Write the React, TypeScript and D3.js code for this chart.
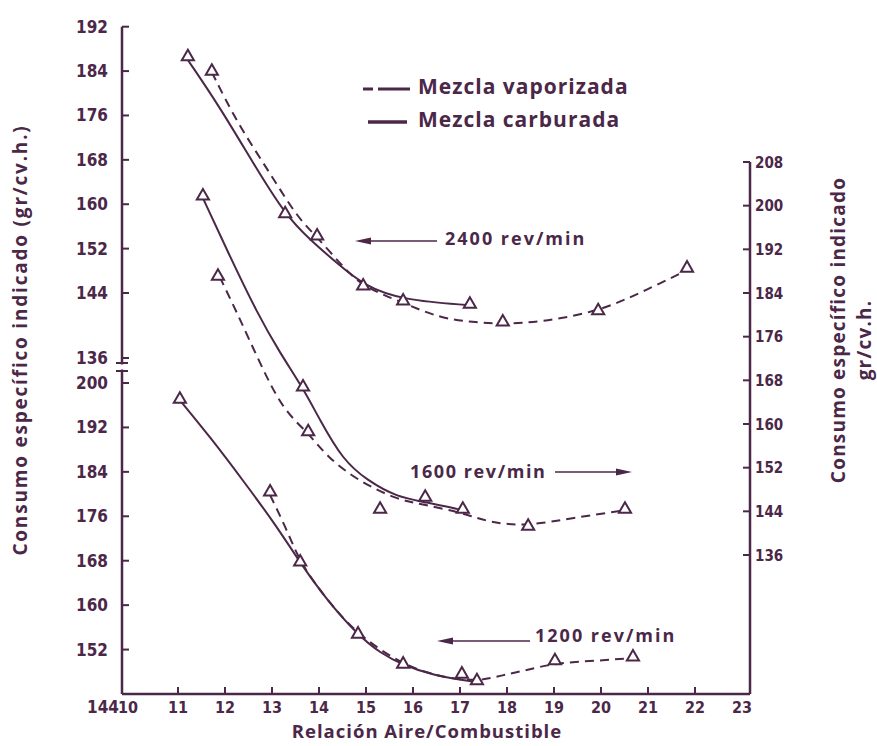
import * as d3 from "d3";

const W = 877;
const H = 746;
const INK = "#4b2748";

// air/fuel ratio ticks
const xTicks = [10, 11, 12, 13, 14, 15, 16, 17, 18, 19, 20, 21, 22, 23];
const topTicks = [136, 144, 152, 160, 168, 176, 184, 192]; // 2400 rev/min (left, upper)
const bottomTicks = [152, 160, 168, 176, 184, 192, 200]; // 1200 rev/min (left, lower)
const rightTicks = [136, 144, 152, 160, 168, 176, 184, 192, 200, 208]; // 1600 rev/min

// measured points (triangles)
const m2400Carb = [[11.21, 186.4], [13.28, 158.1], [14.94, 145.1], [15.79, 142.9], [17.21, 142.5]];
const m2400Vap = [[11.72, 183.8], [13.96, 154.1], [17.91, 140.3], [19.94, 141.7], [21.83, 148.3]];
const m1600Carb = [[11.53, 201.6], [13.66, 166.6], [16.26, 146.4], [17.06, 144.2]];
const m1600Vap = [[11.85, 186.9], [13.77, 158.4], [15.3, 144.2], [18.45, 141.1], [20.51, 144.2]];
const m1200Carb = [[11.04, 196.9], [13.6, 167.6], [14.83, 154.6], [15.79, 149.2], [17.04, 147.4]];
const m1200Vap = [[12.96, 180.2], [17.36, 146.2], [19.02, 149.8], [20.68, 150.5]];

// drawn curves
const c2400Carb = [[11.21, 186.0], [11.89, 177.5], [12.6, 167.4], [13.28, 158.1], [13.81, 153.6], [14.38, 149.4], [14.94, 145.4], [15.79, 143.1], [17.21, 142.5]];
const c2400Vap = [[11.72, 183.8], [12.26, 174.6], [12.96, 165.6], [13.53, 157.7], [13.96, 154.1], [14.51, 148.7], [14.94, 145.1], [15.79, 142.8], [16.57, 140.9], [17.28, 140.4], [17.91, 140.2], [18.7, 140.4], [19.94, 141.7], [20.83, 144.0], [21.83, 148.1]];
const c1600Carb = [[11.53, 201.4], [12.11, 190.6], [12.68, 180.4], [13.17, 173.0], [13.66, 166.6], [14.02, 160.7], [14.51, 153.4], [15.02, 149.7], [15.66, 146.6], [16.26, 145.7], [17.06, 144.2]];
const c1600Vap = [[11.89, 186.9], [12.26, 180.3], [12.74, 171.2], [13.23, 162.6], [13.77, 158.4], [14.17, 154.0], [14.81, 149.7], [15.66, 146.1], [16.26, 145.2], [17.06, 143.7], [17.64, 141.9], [18.43, 141.3], [19.4, 142.8], [20.51, 144.2]];
const c1200Carb = [[11.04, 196.9], [11.68, 190.3], [12.38, 182.5], [13.11, 174.1], [13.6, 167.6], [14.17, 160.9], [14.83, 154.6], [15.3, 151.4], [15.79, 149.2], [16.43, 147.4], [17.04, 146.5], [17.32, 146.2]];
const c1200Vap = [[12.96, 179.8], [13.32, 173.5], [13.6, 167.6], [14.17, 160.9], [14.83, 154.6], [15.79, 149.2], [16.57, 147.1], [17.36, 146.2], [17.91, 147.4], [18.43, 148.3], [19.02, 149.6], [20.13, 150.1], [20.68, 150.5]];

const legendItems = ["Mezcla vaporizada", "Mezcla carburada"];

const AX_L = 122;
const AX_R = 750;
const AX_B = 694;

const x = d3.scaleLinear().domain([10, 23]).range([131, 742]);
// upper left scale has a break below 144
const yTop = d3.scaleLinear().domain([136, 144, 192]).range([358, 293, 26.7]);
const yBot = d3.scaleLinear().domain([144, 200]).range([AX_B, 383]);
const yRight = d3.scaleLinear().domain([136, 208]).range([555, 162]);

const font = "'Open Sans', 'DejaVu Sans', sans-serif";
const narrow = "'DejaVu Sans Condensed', 'Open Sans', sans-serif";
const tri = d3.symbol().type(d3.symbolTriangle).size(64);

function Curve({ pts, y, dashed }: { pts: number[][]; y: any; dashed?: boolean }) {
  const line = d3.line<number[]>().x(d => x(d[0])).y(d => y(d[1])).curve(d3.curveBasis);
  return (
    <path d={line(pts) || ""} fill="none" stroke={INK} strokeWidth={2}
      strokeDasharray={dashed ? "9,6" : undefined} />
  );
}

function Marks({ pts, y }: { pts: number[][]; y: any }) {
  return (
    <g>
      {pts.map((d, i) => (
        <path key={i} d={tri() || ""} transform={`translate(${x(d[0])},${y(d[1]) - 1})`}
          fill="white" stroke={INK} strokeWidth={2} />
      ))}
    </g>
  );
}

function Arrow({ x1, x2, yy }: { x1: number; x2: number; yy: number }) {
  const dir = x2 > x1 ? 1 : -1;
  return (
    <g>
      <line x1={x1} x2={x2 - dir * 8} y1={yy} y2={yy} stroke={INK} strokeWidth={1.5} />
      <path d={`M${x2},${yy} L${x2 - dir * 16},${yy - 3.5} L${x2 - dir * 16},${yy + 3.5} Z`} fill={INK} />
    </g>
  );
}

export default function App() {
  const bold = { fontFamily: font, fontWeight: 700, fill: INK } as const;
  const tick = { fontFamily: narrow, fontWeight: 700, fill: INK } as const;
  return (
    <svg width={W} height={H} style={{ position: "absolute", left: 0, top: 0, background: "white" }}>
      {/* axes */}
      <line x1={AX_L} x2={AX_L} y1={yTop(192)} y2={AX_B} stroke={INK} strokeWidth={2.5} />
      <line x1={AX_R} x2={AX_R} y1={yRight(208)} y2={AX_B} stroke={INK} strokeWidth={2.5} />
      <line x1={AX_L} x2={AX_R} y1={AX_B} y2={AX_B} stroke={INK} strokeWidth={2.5} />
      {/* axis break */}
      <line x1={AX_L - 6} x2={AX_L + 6} y1={363} y2={363} stroke={INK} strokeWidth={2} />
      <line x1={AX_L - 6} x2={AX_L + 6} y1={371} y2={371} stroke={INK} strokeWidth={2} />
      <rect x={AX_L - 3} y={364.5} width={6} height={5} fill="white" />

      {topTicks.map(t => (
        <g key={"t" + t}>
          <line x1={AX_L} x2={AX_L + 7} y1={yTop(t)} y2={yTop(t)} stroke={INK} strokeWidth={2} />
          <text x={108} y={yTop(t) + 1} textAnchor="end" dominantBaseline="middle" fontSize={17} {...tick}>{t}</text>
        </g>
      ))}
      {bottomTicks.map(t => (
        <g key={"b" + t}>
          <line x1={AX_L} x2={AX_L + 7} y1={yBot(t)} y2={yBot(t)} stroke={INK} strokeWidth={2} />
          <text x={108} y={yBot(t) + 1} textAnchor="end" dominantBaseline="middle" fontSize={17} {...tick}>{t}</text>
        </g>
      ))}
      <text x={119} y={yBot(144) + 14} textAnchor="end" dominantBaseline="middle" fontSize={17} {...tick}>144</text>
      {rightTicks.map(t => (
        <g key={"r" + t}>
          <line x1={AX_R - 7} x2={AX_R} y1={yRight(t)} y2={yRight(t)} stroke={INK} strokeWidth={2} />
          <text x={755} y={yRight(t) + 1} textAnchor="start" dominantBaseline="middle" fontSize={15} {...tick}>{t}</text>
        </g>
      ))}
      {xTicks.map(t => (
        <g key={"x" + t}>
          {t > 10 && t < 23 && <line x1={x(t)} x2={x(t)} y1={AX_B} y2={AX_B - 7} stroke={INK} strokeWidth={2} />}
          <text x={x(t) - (t === 10 ? 3 : 0)} y={AX_B + 14} textAnchor="middle" dominantBaseline="middle" fontSize={16} {...tick}>{t}</text>
        </g>
      ))}

      {/* axis titles */}
      <text x={427} y={733} textAnchor="middle" dominantBaseline="middle" fontSize={18.5} letterSpacing={1} {...bold}>Relación Aire/Combustible</text>
      <text transform="translate(22,340) rotate(-90)" textAnchor="middle" dominantBaseline="middle" fontSize={19} letterSpacing={1.8} {...bold}>Consumo específico indicado (gr/cv.h.)</text>
      <text transform="translate(840,330) rotate(-90)" textAnchor="middle" dominantBaseline="middle" fontSize={19} letterSpacing={1.2} {...bold}>Consumo específico indicado</text>
      <text transform="translate(866,340) rotate(-90)" textAnchor="middle" dominantBaseline="middle" fontSize={19} letterSpacing={1.2} {...bold}>gr/cv.h.</text>

      {/* curves */}
      <Curve pts={c2400Carb} y={yTop} />
      <Curve pts={c2400Vap} y={yTop} dashed />
      <Curve pts={c1600Carb} y={yRight} />
      <Curve pts={c1600Vap} y={yRight} dashed />
      <Curve pts={c1200Carb} y={yBot} />
      <Curve pts={c1200Vap} y={yBot} dashed />
      <Marks pts={m2400Carb} y={yTop} />
      <Marks pts={m2400Vap} y={yTop} />
      <Marks pts={m1600Carb} y={yRight} />
      <Marks pts={m1600Vap} y={yRight} />
      <Marks pts={m1200Carb} y={yBot} />
      <Marks pts={m1200Vap} y={yBot} />

      {/* legend */}
      <line x1={363} x2={410} y1={89} y2={89} stroke={INK} strokeWidth={3} strokeDasharray="10,5,32,0" />
      <line x1={368} x2={407} y1={122} y2={122} stroke={INK} strokeWidth={3.5} />
      {legendItems.map((s, i) => (
        <text key={s} x={418} y={88 + i * 33} dominantBaseline="middle" fontSize={21} letterSpacing={1} {...bold}>{s}</text>
      ))}

      {/* speed annotations */}
      <Arrow x1={437} x2={355} yy={241} />
      <text x={445} y={240} dominantBaseline="middle" fontSize={18} letterSpacing={2} {...bold}>2400 rev/min</text>
      <text x={410} y={473} dominantBaseline="middle" fontSize={18} letterSpacing={1.6} {...bold}>1600 rev/min</text>
      <Arrow x1={555} x2={632} yy={472} />
      <Arrow x1={530} x2={437} yy={641} />
      <text x={535} y={637} dominantBaseline="middle" fontSize={18} letterSpacing={2} {...bold}>1200 rev/min</text>
    </svg>
  );
}
